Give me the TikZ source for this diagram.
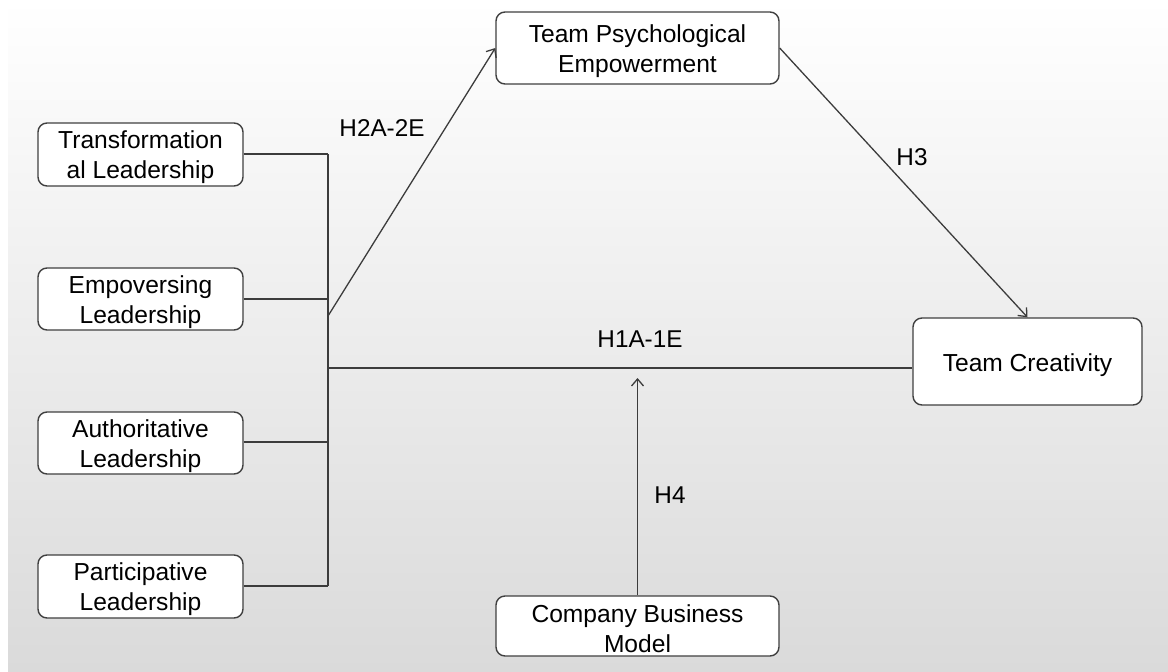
\documentclass[tikz,border=0pt]{standalone}
\usepackage{fontspec}
\setmainfont{Liberation Sans}
\usetikzlibrary{arrows.meta}
\definecolor{bgbot}{RGB}{218,218,218}
\definecolor{boxline}{RGB}{64,64,64}
\definecolor{conn}{RGB}{60,60,60}
\newcommand{\lowerby}[1]{\rule{0pt}{#1}}
\begin{document}
\begin{tikzpicture}[x=1pt,y=-1pt,
  box/.style={draw=boxline, line width=1.4pt, fill=white, rounded corners=9pt,
    align=center, inner sep=0pt, font=\fontsize{24.6}{30}\selectfont},
  conn/.style={draw=conn, line width=1.3pt},
  arr/.style={conn, -{Straight Barb[length=7pt,width=12pt,line width=1.3pt]}},
  lbl/.style={font=\fontsize{24.3}{28}\selectfont, inner sep=0pt}]
\useasboundingbox (0,0) rectangle (1168,672);
\fill[white] (0,0) rectangle (1168,672);
\shade[top color=white, bottom color=bgbot] (8,0) rectangle (1168,672);

\node[box, minimum width=205pt, minimum height=63pt] (T) at (140.5,154.5) {\lowerby{24pt}Transformation\\al Leadership};
\node[box, minimum width=205pt, minimum height=62pt] (E) at (140.5,299) {\lowerby{24pt}Empoversing\\Leadership};
\node[box, minimum width=205pt, minimum height=62pt] (A) at (140.5,443) {\lowerby{24pt}Authoritative\\Leadership};
\node[box, minimum width=205pt, minimum height=63pt] (P) at (140.5,586.5) {\lowerby{24pt}Participative\\Leadership};
\node[box, minimum width=283pt, minimum height=72pt] (TPE) at (637.5,48) {\lowerby{24pt}Team Psychological\\Empowerment};
\node[box, minimum width=229pt, minimum height=87pt] (TC) at (1027.5,361.5) {\lowerby{26pt}Team Creativity};
\node[box, minimum width=283pt, minimum height=60pt] (CBM) at (637.5,626) {\lowerby{24pt}Company Business\\Model};

\coordinate (b1) at (328,154);
\coordinate (b2) at (328,299);
\coordinate (b3) at (328,442);
\coordinate (b4) at (328,586);
\coordinate (bd) at (328,316);
\coordinate (bh) at (328,368);
\coordinate (h4end) at (637.5,378);

\draw[conn] (T.east |- b1) -- (b1);
\draw[conn] (E.east |- b2) -- (b2);
\draw[conn] (A.east |- b3) -- (b3);
\draw[conn] (P.east |- b4) -- (b4);
\draw[conn] (b1) -- (b4);
\draw[arr] (bd) -- (TPE.west);
\draw[arr] (TPE.east) -- (TC.north);
\draw[conn] (bh) -- (bh -| TC.west);
\draw[arr] (CBM.north) -- (h4end);

\node[lbl] (l2) at (382,128) {H2A-2E};
\node[lbl] (l3) at (912,157) {H3};
\node[lbl] (l1) at (640,339) {H1A-1E};
\node[lbl] (l4) at (670,495) {H4};
\end{tikzpicture}
\end{document}
